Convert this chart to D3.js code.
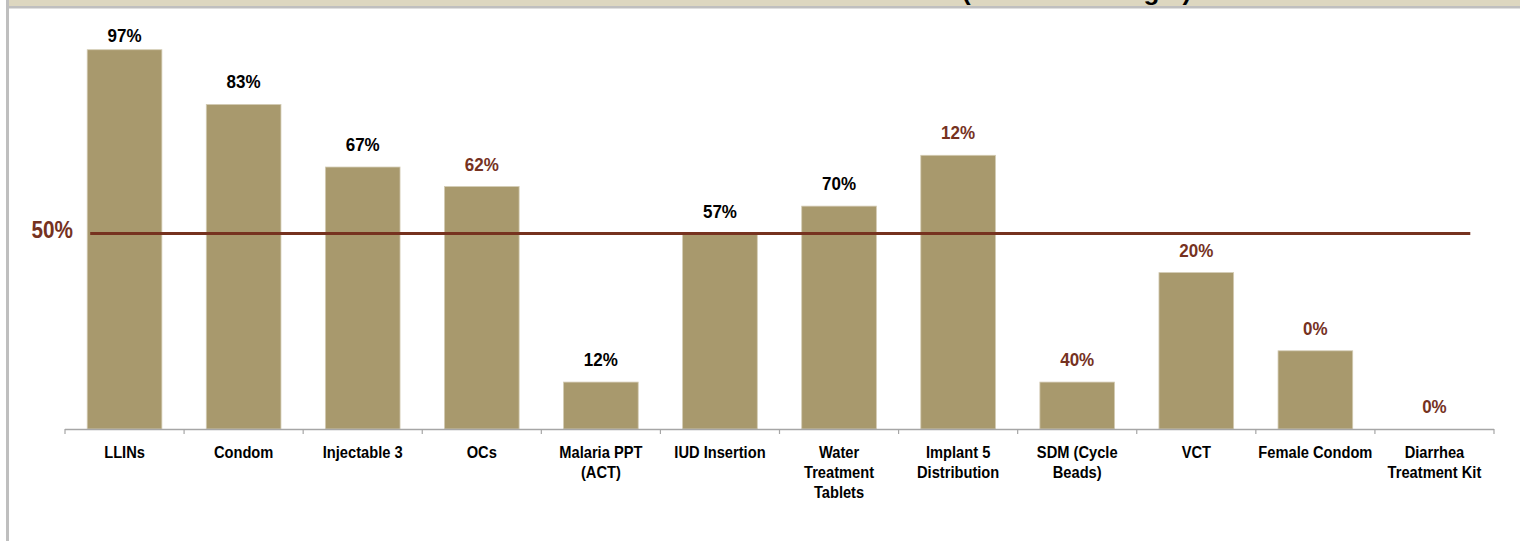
<!DOCTYPE html>
<html>
<head>
<meta charset="utf-8">
<script src="https://cdn.jsdelivr.net/npm/d3@7"></script>
<style>
  html, body { margin: 0; padding: 0; background: #ffffff; }
  #chart { width: 1520px; height: 541px; }
  text { font-family: "Liberation Sans", Arial, sans-serif; }
</style>
</head>
<body>
<div id="chart"></div>
<script>
// Datos del gráfico
const categories = ["LLINs", "Condom", "Injectable 3", "OCs", "Malaria PPT\n(ACT)", "IUD Insertion",
  "Water\nTreatment\nTablets", "Implant 5\nDistribution", "SDM (Cycle\nBeads)", "VCT",
  "Female Condom", "Diarrhea\nTreatment Kit"];
const barValues = [97, 83, 67, 62, 12, 50, 57, 70, 12, 40, 20, 0];
const labelTexts = ["97%", "83%", "67%", "62%", "12%", "57%", "70%", "12%", "40%", "20%", "0%", "0%"];
const labelFlagged = [false, false, false, true, false, false, false, true, true, true, true, true];
const targetValue = 50;
const titleText = "(Percent of Target)";

const brown = "#76321f";

function grafico(container, props) {
    var margin = {top: 28, right: 26, bottom: 112, left: 65};
    var width = props.width - margin.left - margin.right;
    var height = props.height - margin.top - margin.bottom;

    container.select("svg").remove();
    let svg = container.append("svg")
        .attr("width", props.width)
        .attr("height", props.height);

    // Marco: barra gris izquierda y cabecera
    svg.append("rect").attr("x", 9).attr("y", 0).attr("width", props.width - 9).attr("height", 6)
        .attr("fill", "#ddd7c0");
    svg.append("rect").attr("x", 9).attr("y", 6).attr("width", props.width - 9).attr("height", 2.5)
        .attr("fill", "#bfbfbf");
    svg.append("rect").attr("x", 6).attr("y", 0).attr("width", 3).attr("height", props.height)
        .attr("fill", "#bfbfbf");

    // Título (cortado por arriba, como en el original)
    svg.append("text")
        .attr("x", 962)
        .attr("y", 0)
        .style("font-size", "26px")
        .style("font-weight", "bold")
        .attr("fill", "#000")
        .text(titleText);

    let g = svg.append("g")
        .attr("transform", "translate(" + margin.left + "," + margin.top + ")");

    // Escalas
    const n = categories.length;
    const p = 0.373;
    const xScale = d3.scaleBand()
        .domain(d3.range(n))
        .range([0, width])
        .paddingInner(p)
        .paddingOuter(p / 2);
    const step = xScale.step();
    const cx = i => xScale(i) + xScale.bandwidth() / 2;

    const yScale = d3.scaleLinear()
        .domain([0, 100])
        .range([height, height - 391]);

    // Barras
    g.selectAll(".bar").data(barValues)
        .enter().append("rect")
        .attr("class", "bar")
        .attr("x", (d, i) => xScale(i))
        .attr("y", d => yScale(d))
        .attr("width", xScale.bandwidth())
        .attr("height", d => height - yScale(d))
        .attr("fill", "#a8996d")
        .attr("stroke", "#d3cbb3")
        .attr("stroke-width", 0.8);

    // Eje X con marcas entre categorías
    g.append("line")
        .attr("x1", 0).attr("x2", width)
        .attr("y1", height + 0.5).attr("y2", height + 0.5)
        .attr("stroke", "#a6a6a6")
        .attr("stroke-width", 1.5);
    g.selectAll(".tick-mark").data(d3.range(n + 1))
        .enter().append("line")
        .attr("class", "tick-mark")
        .attr("x1", d => d * step).attr("x2", d => d * step)
        .attr("y1", height).attr("y2", height + 5)
        .attr("stroke", "#a6a6a6")
        .attr("stroke-width", 1.2);

    // Etiquetas de categoría (varias líneas, algo estrechas)
    let cat = g.selectAll(".cat-label").data(categories)
        .enter().append("text")
        .attr("class", "cat-label")
        .attr("transform", (d, i) => "translate(" + cx(i) + "," + (height + 28.5) + ") scale(0.9,1)")
        .attr("text-anchor", "middle")
        .style("font-size", "16.3px")
        .style("font-weight", "bold")
        .attr("fill", "#000");
    cat.each(function(d) {
        const t = d3.select(this);
        d.split("\n").forEach((line, k) => {
            t.append("tspan")
                .attr("x", 0)
                .attr("dy", k === 0 ? 0 : 20.5)
                .text(line);
        });
    });

    // Línea objetivo 50%
    g.append("line")
        .attr("x1", xScale(0) + 3)
        .attr("x2", xScale(n - 1) + xScale.bandwidth() - 1.5)
        .attr("y1", yScale(targetValue))
        .attr("y2", yScale(targetValue))
        .attr("stroke", brown)
        .attr("stroke-width", 3);
    g.append("text")
        .attr("transform", "translate(8," + (yScale(targetValue) + 4.5) + ") scale(0.9,1)")
        .attr("text-anchor", "end")
        .style("font-size", "23px")
        .style("font-weight", "bold")
        .attr("fill", brown)
        .text(targetValue + "%");

    // Etiquetas de valor
    g.selectAll(".value-label").data(barValues)
        .enter().append("text")
        .attr("class", "value-label")
        .attr("transform", (d, i) => "translate(" + cx(i) + "," + Math.max(yScale(d) - 16, 13.5) + ") scale(0.92,1)")
        .attr("text-anchor", "middle")
        .style("font-size", "18.5px")
        .style("font-weight", "bold")
        .attr("fill", (d, i) => labelFlagged[i] ? brown : "#000")
        .text((d, i) => labelTexts[i]);
}

grafico(d3.select("#chart"), {width: 1520, height: 541});
</script>
</body>
</html>
